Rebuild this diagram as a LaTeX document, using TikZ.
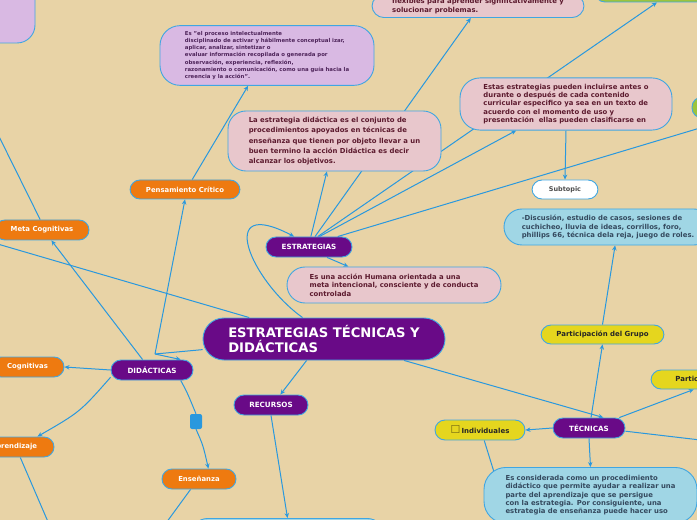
\documentclass[tikz,border=0pt]{standalone}
\usepackage{fontspec}
\setmainfont{DejaVu Sans}
\usepackage{tikz}
\usetikzlibrary{arrows.meta,backgrounds}

\definecolor{fondo}{RGB}{232,211,166}
\definecolor{azul}{RGB}{41,152,222}
\definecolor{borde}{RGB}{64,166,226}
\definecolor{morado}{RGB}{105,10,135}
\definecolor{naranja}{RGB}{238,122,16}
\definecolor{amarillo}{RGB}{229,214,30}
\definecolor{rosa}{RGB}{232,199,204}
\definecolor{lila}{RGB}{217,185,227}
\definecolor{celeste}{RGB}{160,214,229}
\definecolor{verde}{RGB}{157,196,60}
\definecolor{granate}{RGB}{92,26,46}
\definecolor{violeta}{RGB}{78,36,90}
\definecolor{pizarra}{RGB}{52,73,94}
\definecolor{oliva}{RGB}{110,100,20}

\tikzset{
	pildora/.style={draw=borde, line width=0.9bp, rounded corners=10bp, minimum height=20bp, inner sep=0pt, font=\bfseries\fontsize{7.2}{8}\selectfont},
	tema/.style={pildora, fill=morado, text=white},
	rama/.style={pildora, fill=naranja, text=white, font=\bfseries\fontsize{6.9}{8}\selectfont},
	hoja/.style={pildora, fill=amarillo, text=black!85, font=\bfseries\fontsize{7}{8}\selectfont},
	nota/.style={draw=borde, line width=0.9bp, rounded corners=18bp, align=left, inner sep=6bp},
	enlace/.style={draw=azul, line width=1bp, ->},
	linea/.style={draw=azul, line width=1bp}
}

\begin{document}
\begin{tikzpicture}[x=1bp, y=-1bp, >={Stealth[length=5bp,width=4.5bp]}]
	\useasboundingbox (0,0) rectangle (697,520);
	\clip (0,0) rectangle (697,520);

	% центральная тема
	\node[tema, minimum width=242bp, minimum height=42bp, rounded corners=21bp, align=left, font=\bfseries\fontsize{13.2}{16}\selectfont] (main) at (324,339) {ESTRATEGIAS TÉCNICAS Y\\DIDÁCTICAS};

	% основные ветви
	\node[tema, minimum width=86bp] (estr) at (309,247) {ESTRATEGIAS};
	\node[tema, minimum width=82bp] (did) at (152,370) {DIDÁCTICAS};
	\node[tema, minimum width=74bp] (rec) at (271,405) {RECURSOS};
	\node[tema, minimum width=72bp] (tec) at (589,428) {TÉCNICAS};

	% оранжевые подтемы
	\node[rama, minimum width=110bp, minimum height=19bp] (pens) at (185,189.5) {Pensamiento Crítico};
	\node[rama, minimum width=94bp] (meta) at (42,230) {Meta Cognitivas};
	\node[rama, minimum width=73bp] (cogn) at (27.5,367) {Cognitivas};
	\node[rama, minimum width=80bp] (apre) at (14,447) {Aprendizaje};
	\node[rama, minimum width=74bp] (ense) at (199,479) {Enseñanza};

	% маркер свёрнутой ветви
	\node[fill=azul, rounded corners=2bp, minimum width=12bp, minimum height=15bp, inner sep=0pt] (pliegue) at (196,421.5) {};

	% жёлтые подтемы
	\node[hoja, minimum width=123bp, minimum height=19bp] (grupo) at (602.5,334.5) {Participación del Grupo};
	\node[hoja, minimum width=100bp, minimum height=19bp] (partR) at (701,379.5) {Participación};
	\node[hoja, minimum width=90bp] (indiv) at (480,430) {{\fontsize{11}{11}\selectfont\color{oliva}☐}\,Individuales};
	\node[pildora, fill=white, text=black!70, minimum width=66bp, minimum height=19bp, font=\bfseries\fontsize{6.5}{8}\selectfont] (subt) at (565,189.5) {Subtopic};

	% обрезанные края
	\node[nota, fill=lila, minimum width=110bp, minimum height=66bp] (lila0) at (-20,10) {};
	\node[nota, fill=verde, rounded corners=10bp, minimum width=130bp, minimum height=24bp] (verde1) at (660,-10) {};
	\node[nota, fill=verde, rounded corners=10bp, minimum width=76bp, minimum height=21bp] (verde2) at (730,107.5) {};

	% текстовые блоки
	\node[nota, fill=lila, text=violeta, rounded corners=20bp, minimum width=214bp, minimum height=57bp, font=\bfseries\fontsize{5.4}{7.1}\selectfont] (cita) at (267,55.5) {Es "el proceso intelectualmente\\disciplinado de activar y hábilmente conceptual izar,\\aplicar, analizar, sintetizar o\\evaluar información recopilada o generada por\\observación, experiencia, reflexión,\\razonamiento o comunicación, como una guía hacia la\\creencia y la acción".};
	\node[nota, fill=rosa, text=granate, minimum width=213bp, minimum height=52bp, font=\bfseries\fontsize{6.9}{10.3}\selectfont] (defin) at (334.5,141) {La estrategia didáctica es el conjunto de\\procedimientos apoyados en técnicas de\\enseñanza que tienen por objeto llevar a un\\buen termino la acción Didáctica es decir\\alcanzar los objetivos.};
	\node[nota, fill=rosa, text=granate, rounded corners=12bp, anchor=south, minimum width=212bp, inner ysep=4bp, font=\bfseries\fontsize{6.9}{8.5}\selectfont] (flex) at (478,18) {flexibles para aprender significativamente y\\solucionar problemas.};
	\node[nota, fill=rosa, text=granate, rounded corners=20bp, minimum width=212bp, minimum height=52bp, font=\bfseries\fontsize{6.9}{8.4}\selectfont] (estas) at (566,104) {Estas estrategias pueden incluirse antes o\\durante o después de cada contenido\\curricular especifico ya sea en un texto de\\acuerdo con el momento de uso y\\presentación\ \ ellas pueden clasificarse en};
	\node[nota, fill=celeste, text=pizarra, minimum width=208bp, minimum height=36bp, font=\bfseries\fontsize{6.9}{8.5}\selectfont] (disc) at (608,227) {-Discusión, estudio de casos, sesiones de\\cuchicheo, lluvia de ideas, corrillos, foro,\\phillips 66, técnica dela reja, juego de roles.};
	\node[nota, fill=rosa, text=granate, minimum width=214bp, minimum height=36bp, font=\bfseries\fontsize{6.9}{8.4}\selectfont] (accion) at (394,285) {Es una acción Humana orientada a una\\meta intencional, consciente y de conducta\\controlada};
	\node[nota, fill=celeste, text=pizarra, rounded corners=22bp, anchor=north, minimum width=213bp, inner ysep=8bp, font=\bfseries\fontsize{6.9}{8.3}\selectfont] (proc) at (590.5,467) {Es considerada como un procedimiento\\didáctico que permite ayudar a realizar una\\parte del aprendizaje que se persigue\\con la estrategia. Por consiguiente, una\\estrategia de enseñanza puede hacer uso};
	\node[nota, fill=celeste, anchor=north, minimum width=195bp, minimum height=40bp] (caja) at (287.5,518) {};

	% свободные концы
	\coordinate (nudo) at (155,354);
	\coordinate (fueraI) at (-40,233);
	\coordinate (fueraD) at (760,110);
	\coordinate (fueraD2) at (760,447);
	\coordinate (abajo1) at (150,545);
	\coordinate (abajo2) at (58,545);
	\coordinate (abajo3) at (515,540);

	\begin{scope}[on background layer]
		% фон
		\fill[fondo] (0,0) rectangle (697,520);

		% связи от центра
		\draw[enlace] (main.135) .. controls (250,280) and (215,195) .. (estr.145);
		\draw[linea] (main.185) -- (nudo);
		\draw[enlace] (nudo) -- (did.20);
		\draw[linea] (main.164) -- (fueraI);
		\draw[enlace] (main.231) -- (rec.48);
		\draw[enlace] (main.-15) -- (tec.36);

		% ESTRATEGIAS
		\draw[enlace] (estr.80) -- (defin.256);
		\draw[enlace] (estr.60) -- (flex.239);
		\draw[enlace] (estr.50) -- (verde1.256);
		\draw[enlace] (estr.45) -- (estas.208);
		\draw[linea] (estr.20) -- (fueraD);
		\draw[enlace] (estr.-30) -- (accion.158);
		\draw[enlace] (estas.south) -- (subt.north);

		% DIDÁCTICAS
		\draw[enlace] (nudo) -- (pens.south);
		\draw[enlace] (pens.54) -- (cita.238);
		\draw[enlace] (did.132) -- (meta.312);
		\draw[enlace] (meta.100) -- (lila0.231);
		\draw[enlace] (did.west) -- (cogn.east);
		\draw[enlace] (did.190) .. controls (80,412) .. (apre.24);
		\draw[linea] (did.-20) .. controls (187,392) .. (pliegue.north);
		\draw[enlace] (pliegue.south) .. controls (203,445) .. (ense.48);
		\draw[linea] (ense.231) -- (abajo1);
		\draw[linea] (apre.301) -- (abajo2);

		% RECURSOS
		\draw[enlace] (rec.south) -- (caja.north);

		% TÉCNICAS
		\draw[enlace] (tec.79) -- (grupo.south);
		\draw[enlace] (grupo.north) -- (disc.291);
		\draw[enlace] (tec.19) -- (partR.234);
		\draw[linea] (tec.-5) -- (fueraD2);
		\draw[enlace] (tec.west) -- (indiv.east);
		\draw[enlace] (tec.south) -- (proc.north);
		\draw[linea] (indiv.292) -- (abajo3);
	\end{scope}
\end{tikzpicture}
\end{document}
